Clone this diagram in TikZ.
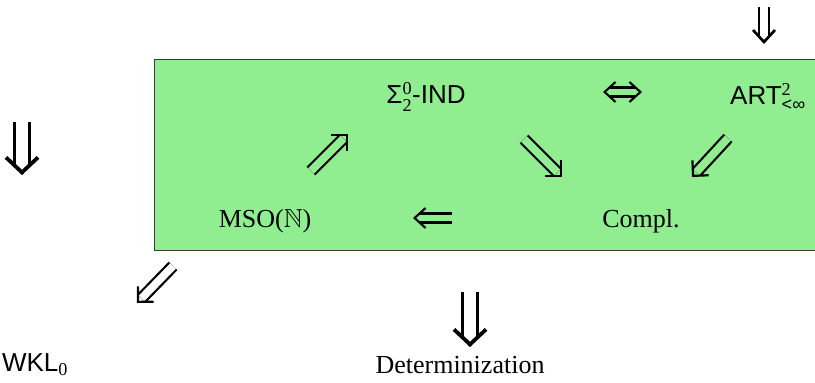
\documentclass[tikz,border=0pt]{standalone}
\usepackage{amsmath,amssymb}
\usepackage{fontspec}
\setmainfont{Liberation Serif}
\newfontfamily\sansf{Liberation Sans}
\usetikzlibrary{arrows.meta,calc}
\definecolor{boxgreen}{HTML}{90EE90}
\definecolor{boxborder}{HTML}{3A3A3A}
% double-line implication arrow: line style, tip style, from, to
\newcommand\imparrow[4]{%
  \draw[#1] (#3) -- (#4);
  \draw[#2] ($(#4)!1pt!(#3)$) -- (#4);}
\begin{document}
\begin{tikzpicture}[x=1pt,y=-1pt,
  serif/.style={font=\fontsize{26}{30}\selectfont, inner sep=0pt},
  sans/.style={font=\sansf\fontsize{26}{30}\selectfont, inner sep=0pt},
  % in-box diagonal arrows
  lineA/.style={draw=black, double=boxgreen, line width=2.2pt, double distance=7.8pt, shorten >=6.5pt},
  tipA/.style={draw=black, line width=2.2pt, -{Straight Barb[length=11pt,width=22pt]}},
  lineAout/.style={lineA, double=white},
  % big vertical arrows
  lineB/.style={draw=black, double=white, line width=3.8pt, double distance=11.2pt, shorten >=9pt},
  tipB/.style={draw=black, line width=3.8pt, -{Straight Barb[length=15pt,width=32pt]}},
  % medium vertical arrow
  lineC/.style={draw=black, double=white, line width=2.7pt, double distance=7.3pt, shorten >=7pt},
  tipC/.style={draw=black, line width=2.7pt, -{Straight Barb[length=12pt,width=22pt]}},
  % horizontal arrows in box
  lineD/.style={draw=black, double=boxgreen, line width=2.1pt, double distance=6.9pt, shorten >=6.5pt},
  tipD/.style={draw=black, line width=2.1pt, -{Straight Barb[length=11pt,width=20pt]}}
]
\clip (0,0) rectangle (815,383);
\fill[white] (0,0) rectangle (815,383);
\draw[fill=boxgreen, draw=boxborder, line width=1pt] (154,59) rectangle (830,250);

% text nodes
\node[sans]  (sig)  at (426,97)  {Σ$^{\text{\rmfamily 0}}_{\text{\rmfamily 2}}$-IND};
\node[sans]  (art)  at (768,97)  {ART$^{\text{\rmfamily 2}}_{\text{<∞}}$};
\node[serif] (mso)  at (265,221) {MSO($\mathbb{N}$)};
\node[serif] (cmp)  at (641,221) {Compl.};
\node[sans]  (wkl)  at (35,365)  {WKL$_{\text{\rmfamily 0}}$};
\node[serif] (det)  at (460,365) {Determinization};

% arrow end points
\coordinate (trA) at (764,7);    \coordinate (trB) at (764,44);
\coordinate (lA)  at (22,122);   \coordinate (lB)  at (22,175);
\coordinate (neA) at (311,171);  \coordinate (neB) at (348,134);
\coordinate (seA) at (524,139);  \coordinate (seB) at (562,177);
\coordinate (swA) at (728,138);  \coordinate (swB) at (692,177);
\coordinate (boA) at (173,266);  \coordinate (boB) at (137,303);
\coordinate (bdA) at (470,292);  \coordinate (bdB) at (470,347);
\coordinate (lfA) at (452,218);  \coordinate (lfB) at (413,218);
\coordinate (iffA) at (603,92);  \coordinate (iffB) at (642,92);

\imparrow{lineC}{tipC}{trA}{trB}
\imparrow{lineB}{tipB}{lA}{lB}
\imparrow{lineA}{tipA}{neA}{neB}
\imparrow{lineA}{tipA}{seA}{seB}
\imparrow{lineA}{tipA}{swA}{swB}
\imparrow{lineAout}{tipA}{boA}{boB}
\imparrow{lineB}{tipB}{bdA}{bdB}
\imparrow{lineD}{tipD}{lfA}{lfB}
% two-headed equivalence arrow
\draw[lineD, shorten <=6.5pt] (iffA) -- (iffB);
\draw[tipD] ($(iffB)!1pt!(iffA)$) -- (iffB);
\draw[tipD] ($(iffA)!1pt!(iffB)$) -- (iffA);
\end{tikzpicture}
\end{document}
